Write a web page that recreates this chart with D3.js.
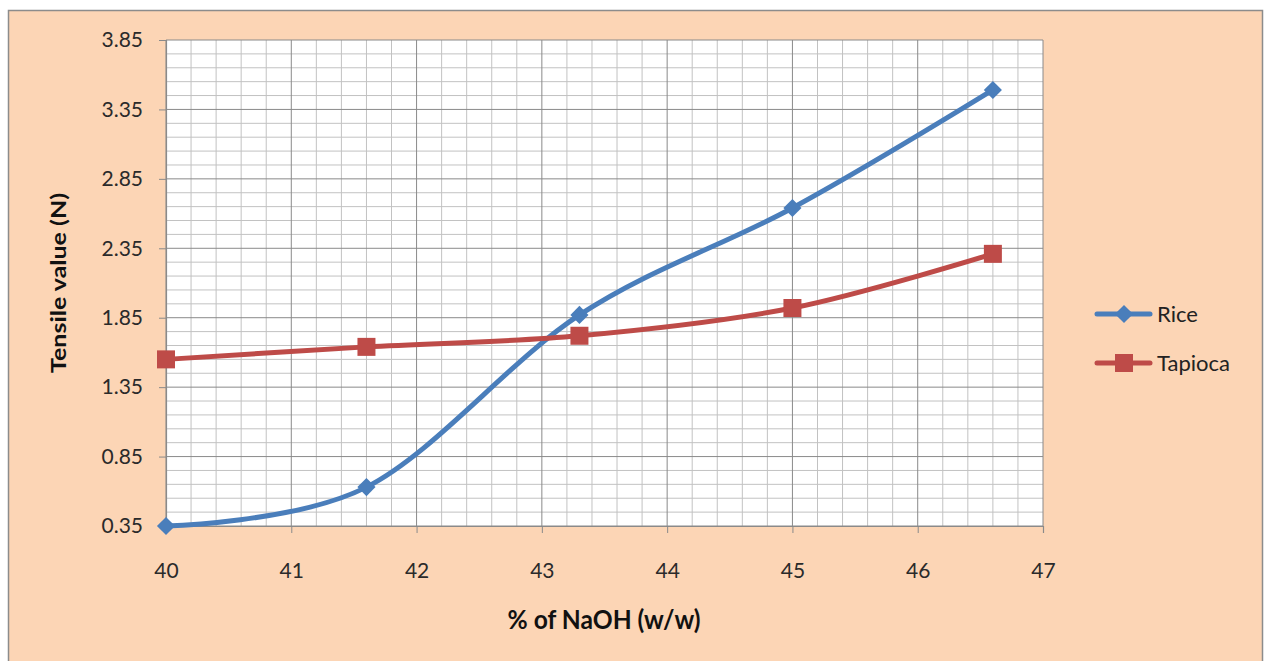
<!DOCTYPE html>
<html><head><meta charset="utf-8">
<script src="https://cdn.jsdelivr.net/npm/d3@7"></script>
<style>body{margin:0;background:#fff;}svg{display:block;font-family:Lato,"Open Sans",sans-serif;}</style>
</head><body><svg id="c" width="1266" height="661"></svg>
<script>
const xValues = [40, 41.6, 43.3, 45, 46.6];
const riceValues = [0.35, 0.63, 1.87, 2.64, 3.49];
const tapiocaValues = [1.55, 1.64, 1.72, 1.92, 2.31];
const xTicks = [40, 41, 42, 43, 44, 45, 46, 47];
const yTicks = [0.35, 0.85, 1.35, 1.85, 2.35, 2.85, 3.35, 3.85];
const seriesNames = ["Rice", "Tapioca"];

const svg = d3.select("#c");
svg.append("rect").attr("x",8.5).attr("y",10.5).attr("width",1254).attr("height",660).attr("fill","#FCD5B5").attr("stroke","#8c8c8c").attr("stroke-width",1.5);

const L=166, R=1043, T=40, B=526;
const x = d3.scaleLinear().domain([40,47]).range([L,R]);
const y = d3.scaleLinear().domain([0.35,3.85]).range([B,T]);

const g = svg.append("g");
g.append("rect").attr("x",L).attr("y",T).attr("width",R-L).attr("height",B-T).attr("fill","#fff");
const minorX = d3.range(0,36).map(i=>40+i*0.2).filter(v=>Math.abs(v-Math.round(v))>1e-6);
const minorY = d3.range(0,36).map(i=>0.35+i*0.1).filter((v,i)=>i%5!==0);
g.selectAll(".mx").data(minorX).enter().append("line").attr("x1",d=>x(d)).attr("x2",d=>x(d)).attr("y1",T).attr("y2",B).attr("stroke","#c2c2c2").attr("stroke-width",1);
g.selectAll(".my").data(minorY).enter().append("line").attr("y1",d=>y(d)).attr("y2",d=>y(d)).attr("x1",L).attr("x2",R).attr("stroke","#c2c2c2").attr("stroke-width",1);
g.selectAll(".Mx").data(xTicks).enter().append("line").attr("x1",d=>x(d)).attr("x2",d=>x(d)).attr("y1",T).attr("y2",B).attr("stroke","#8a8a8a").attr("stroke-width",1);
g.selectAll(".My").data(yTicks).enter().append("line").attr("y1",d=>y(d)).attr("y2",d=>y(d)).attr("x1",L).attr("x2",R).attr("stroke","#8a8a8a").attr("stroke-width",1);

const xAxis = d3.axisBottom(x).tickValues(xTicks).tickSize(7).tickPadding(30).tickFormat(d3.format("d"));
const yAxis = d3.axisLeft(y).tickValues(yTicks).tickSize(7).tickPadding(16).tickFormat(d3.format(".2f"));
const ax = svg.append("g").attr("transform",`translate(0,${B})`).call(xAxis);
const ay = svg.append("g").attr("transform",`translate(${L},0)`).call(yAxis);
[ax,ay].forEach(a=>{
  a.select(".domain").attr("stroke","#8a8a8a").attr("stroke-width",1.2);
  a.selectAll(".tick line").attr("stroke","#8a8a8a");
  a.selectAll("text").attr("font-size",21).attr("fill","#2a2a2a").attr("font-family","Lato,sans-serif");
});

svg.append("text").attr("x",604).attr("y",629).attr("text-anchor","middle").attr("font-size",26).attr("font-weight","bold").attr("fill","#111")
  .attr("textLength",193).attr("lengthAdjust","spacingAndGlyphs").text("% of NaOH (w/w)");
svg.append("text").attr("transform","translate(66,283) rotate(-90)").attr("text-anchor","middle").attr("font-size",21).attr("font-weight","bold").attr("fill","#111")
  .attr("textLength",180).attr("lengthAdjust","spacingAndGlyphs").text("Tensile value (N)");

const colors = ["#4A7EBB","#BE4B48"];
const data = [riceValues, tapiocaValues];
const line = d3.line().x((d,i)=>x(xValues[i])).y(d=>y(d)).curve(d3.curveCatmullRom.alpha(0));
const diamond = d3.symbol().type(d3.symbolDiamond2).size(210);
const square = d3.symbol().type(d3.symbolSquare).size(324);
data.forEach((vals,si)=>{
  svg.append("path").attr("d",line(vals)).attr("fill","none").attr("stroke",colors[si]).attr("stroke-width",5).attr("stroke-linejoin","round").attr("stroke-linecap","round");
  svg.selectAll(".m"+si).data(vals).enter().append("path")
    .attr("d", si===0?diamond:square)
    .attr("transform",(d,i)=>`translate(${x(xValues[i])},${y(d)})`)
    .attr("fill",colors[si]);
});

const legY=[314,363];
seriesNames.forEach((n,i)=>{
  svg.append("line").attr("x1",1097).attr("x2",1150).attr("y1",legY[i]).attr("y2",legY[i]).attr("stroke",colors[i]).attr("stroke-width",5).attr("stroke-linecap","round");
  svg.append("path").attr("d",i===0?diamond:square).attr("transform",`translate(1124,${legY[i]})`).attr("fill",colors[i]);
  svg.append("text").attr("x",1157).attr("y",legY[i]+8).attr("font-size",22).attr("fill","#222").text(n);
});
</script></body></html>
